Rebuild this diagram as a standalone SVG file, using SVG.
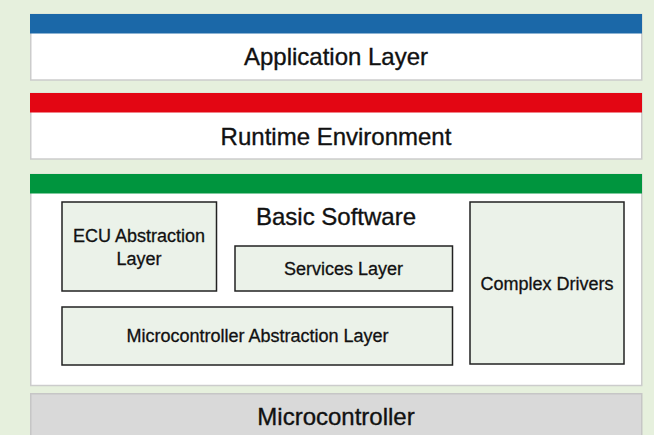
<svg xmlns="http://www.w3.org/2000/svg" width="654" height="435" viewBox="0 0 654 435">
<style>
.panel{fill:#ffffff;stroke:#cccccc;stroke-width:1.5}
.box{fill:#ebf2e9;stroke:#222222;stroke-width:1.5}
.big{font-family:"Liberation Sans",Arial,sans-serif;font-size:24px;fill:#111111;stroke:#111111;stroke-width:0.35;text-anchor:middle}
.small{font-family:"Liberation Sans",Arial,sans-serif;font-size:18px;fill:#111111;stroke:#111111;stroke-width:0.3;text-anchor:middle}
</style>
<rect x="0" y="0" width="654" height="435" fill="#e6f0dd"/>
<g id="application-layer">
<rect class="panel" x="30.75" y="14.5" width="611" height="65.5"/>
<rect x="30" y="14" width="612" height="19.5" fill="#1b68a8"/>
<text class="big" x="336" y="65">Application Layer</text>
</g>
<g id="runtime-environment">
<rect class="panel" x="30.75" y="93.5" width="611" height="65.5"/>
<rect x="30" y="93" width="612" height="19.5" fill="#e30613"/>
<text class="big" x="336" y="145">Runtime Environment</text>
</g>
<g id="basic-software">
<rect class="panel" x="30.75" y="174.5" width="611" height="211"/>
<rect x="30" y="174" width="612" height="19.5" fill="#00953e"/>
<text class="big" x="336" y="225">Basic Software</text>
</g>
<g id="ecu-abstraction-layer">
<rect class="box" x="62" y="202" width="154.5" height="89"/>
<text class="small" x="139" y="241.5">ECU Abstraction</text>
<text class="small" x="139" y="264.5">Layer</text>
</g>
<g id="services-layer">
<rect class="box" x="235" y="246" width="217.5" height="45"/>
<text class="small" x="343.5" y="275">Services Layer</text>
</g>
<g id="microcontroller-abstraction-layer">
<rect class="box" x="62" y="307" width="390.5" height="58"/>
<text class="small" x="257.5" y="342">Microcontroller Abstraction Layer</text>
</g>
<g id="complex-drivers">
<rect class="box" x="470" y="202" width="154" height="162"/>
<text class="small" x="547" y="290">Complex Drivers</text>
</g>
<g id="microcontroller">
<rect x="30.75" y="393.75" width="611" height="45" fill="#d9d9d9" stroke="#c6c6c6" stroke-width="1.5"/>
<text class="big" x="336" y="425">Microcontroller</text>
</g>
<g id="connectors"></g>
</svg>
